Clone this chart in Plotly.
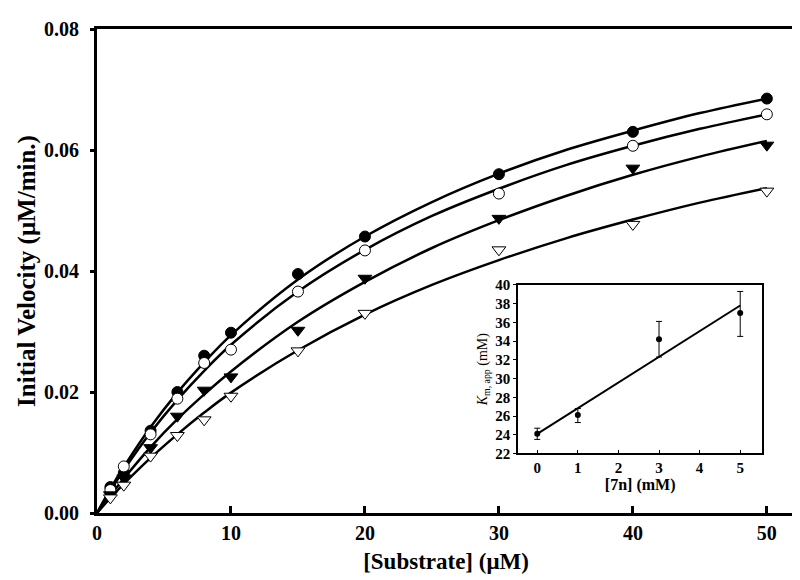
import plotly.graph_objects as go

# ---- main data: substrate (uM) and initial velocity (uM/min) ----
substrate = [1, 2, 4, 6, 8, 10, 15, 20, 30, 40, 50]
v_0mM = [0.0043, 0.0066, 0.0136, 0.0200, 0.0260, 0.0298, 0.0395, 0.0457, 0.0560, 0.0630, 0.0685]
v_1mM = [0.0038, 0.0077, 0.0130, 0.0189, 0.0248, 0.0270, 0.0366, 0.0434, 0.0528, 0.0607, 0.0659]
v_3mM = [0.0030, 0.0058, 0.0108, 0.0160, 0.0203, 0.0225, 0.0302, 0.0388, 0.0487, 0.0570, 0.0608]
v_5mM = [0.0025, 0.0046, 0.0094, 0.0128, 0.0154, 0.0193, 0.0268, 0.0330, 0.0435, 0.0477, 0.0532]

# fitted curves, read at sample substrate concentrations
curve_x = [0, 1, 2, 4, 6, 8, 10, 15, 20, 25, 30, 35, 40, 45, 50]
fit_0mM = [0, 0.0040, 0.0076, 0.0142, 0.0199, 0.0249, 0.0294, 0.0386, 0.0457, 0.0514, 0.0561, 0.0600, 0.0632, 0.0661, 0.0685]
fit_1mM = [0, 0.0037, 0.0071, 0.0133, 0.0187, 0.0235, 0.0278, 0.0366, 0.0435, 0.0491, 0.0536, 0.0575, 0.0607, 0.0635, 0.0659]
fit_3mM = [0, 0.0029, 0.0057, 0.0109, 0.0155, 0.0196, 0.0234, 0.0316, 0.0382, 0.0438, 0.0484, 0.0524, 0.0559, 0.0589, 0.0615]
fit_5mM = [0, 0.0025, 0.0048, 0.0091, 0.0130, 0.0166, 0.0199, 0.0269, 0.0328, 0.0377, 0.0418, 0.0454, 0.0485, 0.0513, 0.0537]

# ---- inset data: Km,app vs [7n] ----
inh = [0, 1, 3, 5]
km_app = [24.1, 26.1, 34.2, 37.0]
km_err_plus = [0.6, 0.7, 1.9, 2.3]
km_err_minus = [0.6, 0.8, 1.9, 2.5]
inset_fit_x = [0, 5]
inset_fit_y = [24.1, 37.8]

FONT = "Liberation Serif"

fig = go.Figure()

for fx, fy in [(curve_x, fit_0mM), (curve_x, fit_1mM), (curve_x, fit_3mM), (curve_x, fit_5mM)]:
    fig.add_trace(go.Scatter(x=fx, y=fy, mode="lines", line=dict(color="black", width=2.5, shape="spline"),
                             showlegend=False, hoverinfo="skip"))

marker_specs = [
    (v_0mM, "circle", "black", 11),
    (v_1mM, "circle", "white", 11),
    (v_3mM, "triangle-down", "black", 12),
    (v_5mM, "triangle-down", "white", 12),
]
for ys, sym, fill, sz in marker_specs:
    fig.add_trace(go.Scatter(x=substrate, y=ys, mode="markers",
                             marker=dict(symbol=sym, size=sz, color=fill, line=dict(color="black", width=1)),
                             showlegend=False))

# inset
fig.add_trace(go.Scatter(x=inset_fit_x, y=inset_fit_y, mode="lines", line=dict(color="black", width=2),
                         xaxis="x2", yaxis="y2", showlegend=False))
fig.add_trace(go.Scatter(x=inh, y=km_app, mode="markers",
                         marker=dict(symbol="circle", size=6, color="black"),
                         error_y=dict(type="data", array=km_err_plus, arrayminus=km_err_minus,
                                      color="black", thickness=1, width=3),
                         xaxis="x2", yaxis="y2", showlegend=False))

fig.update_layout(
    width=800, height=580,
    margin=dict(l=89, r=10, t=17, b=75),
    paper_bgcolor="white", plot_bgcolor="white",
    font=dict(family=FONT, color="black"),
    xaxis=dict(range=[0, 52.1], dtick=10, tick0=0, showgrid=False, zeroline=False,
               showline=True, linecolor="black", linewidth=3, mirror=True,
               ticks="inside", ticklen=7, tickwidth=3, tickcolor="black",
               tickfont=dict(family=FONT, size=20, color="black", weight="bold"),
               title=dict(text="[Substrate] (μM)", font=dict(family=FONT, size=23, weight="bold"), standoff=10)),
    yaxis=dict(range=[0, 0.08], dtick=0.02, tick0=0, tickformat=".2f", showgrid=False, zeroline=False,
               showline=True, linecolor="black", linewidth=3, mirror=True,
               ticks="outside", ticklen=4, tickwidth=3, tickcolor="black", ticklabelstandoff=7,
               tickfont=dict(family=FONT, size=20, color="black", weight="bold"),
               title=dict(text="Initial Velocity (μM/min.)", font=dict(family=FONT, size=25, weight="bold"), standoff=2)),
    xaxis2=dict(domain=[0.6034, 0.9529], anchor="y2", range=[-0.47, 5.54], dtick=1, tick0=0,
                showgrid=False, zeroline=False, showline=True, linecolor="black", linewidth=2, mirror=True,
                ticks="inside", ticklen=3, tickwidth=1, tickcolor="black",
                tickfont=dict(family=FONT, size=15, color="black", weight="bold"),
                title=dict(text="[7n] (mM)", font=dict(family=FONT, size=16, weight="bold"), standoff=2)),
    yaxis2=dict(domain=[0.123, 0.4713], anchor="x2", range=[22, 40], dtick=2, tick0=22,
                showgrid=False, zeroline=False, showline=True, linecolor="black", linewidth=2, mirror=True,
                ticks="outside", ticklen=3, tickwidth=1, tickcolor="black",
                tickfont=dict(family=FONT, size=15, color="black", weight="bold"),
                title=dict(text="<i>K</i><sub>m, app</sub> (mM)", font=dict(family=FONT, size=14), standoff=4)),
)

fig.write_html("out.html")
